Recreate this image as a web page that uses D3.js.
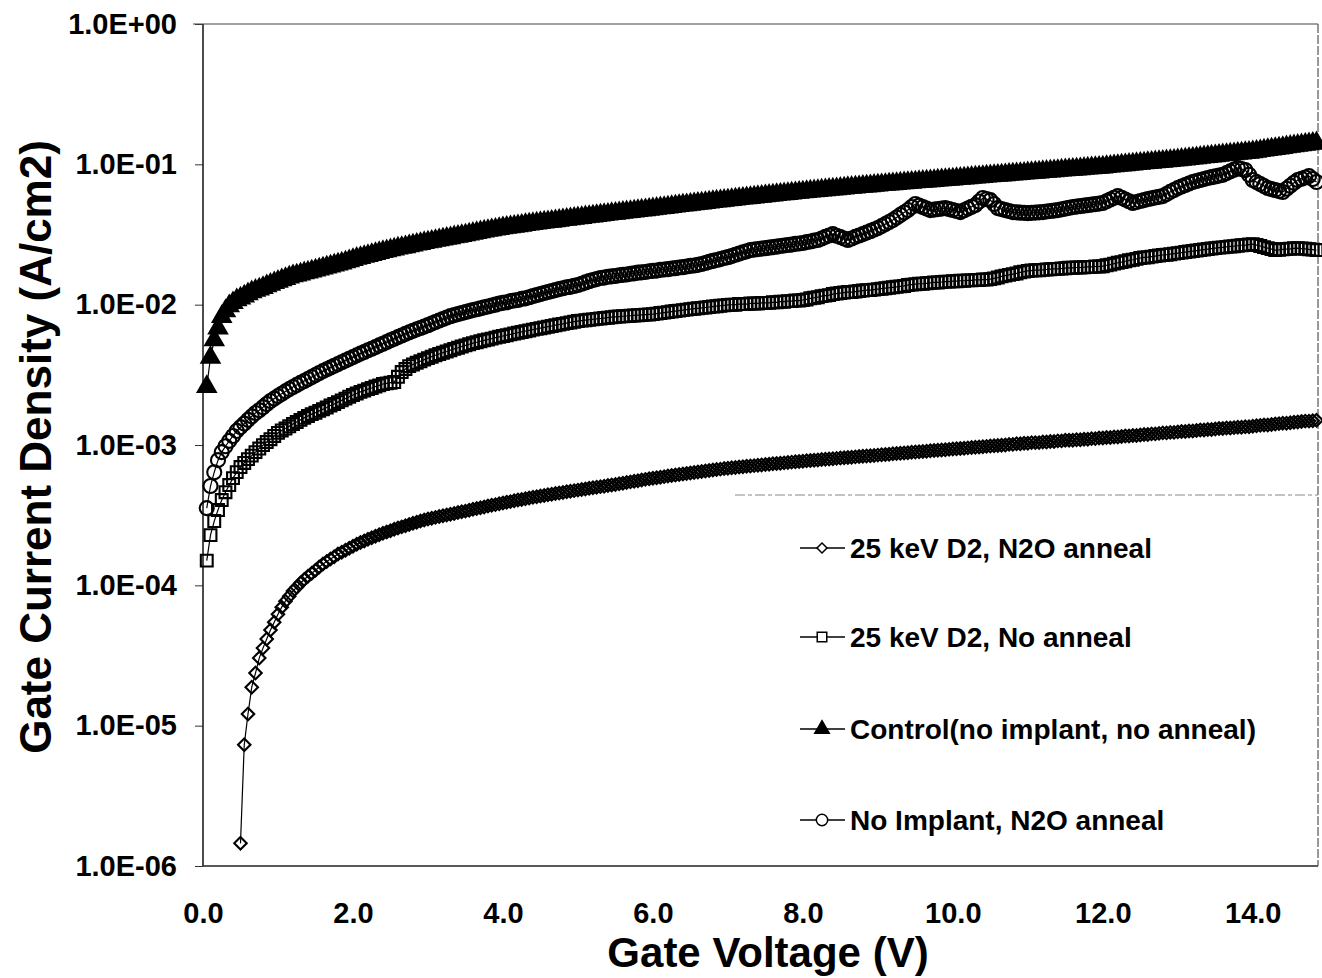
<!DOCTYPE html>
<html>
<head>
<meta charset="utf-8">
<script src="https://cdn.jsdelivr.net/npm/d3@7"></script>
<style>
  body { margin: 0; background: #fff; }
  svg { display: block; font-family: "Liberation Sans", Arial, Helvetica, sans-serif; font-weight: bold; }
</style>
</head>
<body>
<div id="chart"></div>
<script>
// gate voltage sweep (V)
const voltage = [
  0.05,0.1,0.15,0.2,0.25,0.3,0.35,0.4,0.45,0.5,0.55,0.6,0.65,0.7,0.75,0.8,0.85,0.9,0.95,1.0,
  1.05,1.1,1.15,1.2,1.25,1.3,1.35,1.4,1.45,1.5,1.55,1.6,1.65,1.7,1.75,1.8,1.85,1.9,1.95,2.0,
  2.05,2.1,2.15,2.2,2.25,2.3,2.35,2.4,2.45,2.5,2.55,2.6,2.65,2.7,2.75,2.8,2.85,2.9,2.95,3.0,
  3.05,3.1,3.15,3.2,3.25,3.3,3.35,3.4,3.45,3.5,3.55,3.6,3.65,3.7,3.75,3.8,3.85,3.9,3.95,4.0,
  4.05,4.1,4.15,4.2,4.25,4.3,4.35,4.4,4.45,4.5,4.55,4.6,4.65,4.7,4.75,4.8,4.85,4.9,4.95,5.0,
  5.05,5.1,5.15,5.2,5.25,5.3,5.35,5.4,5.45,5.5,5.55,5.6,5.65,5.7,5.75,5.8,5.85,5.9,5.95,6.0,
  6.05,6.1,6.15,6.2,6.25,6.3,6.35,6.4,6.45,6.5,6.55,6.6,6.65,6.7,6.75,6.8,6.85,6.9,6.95,7.0,
  7.05,7.1,7.15,7.2,7.25,7.3,7.35,7.4,7.45,7.5,7.55,7.6,7.65,7.7,7.75,7.8,7.85,7.9,7.95,8.0,
  8.05,8.1,8.15,8.2,8.25,8.3,8.35,8.4,8.45,8.5,8.55,8.6,8.65,8.7,8.75,8.8,8.85,8.9,8.95,9.0,
  9.05,9.1,9.15,9.2,9.25,9.3,9.35,9.4,9.45,9.5,9.55,9.6,9.65,9.7,9.75,9.8,9.85,9.9,9.95,10.0,
  10.05,10.1,10.15,10.2,10.25,10.3,10.35,10.4,10.45,10.5,10.55,10.6,10.65,10.7,10.75,10.8,10.85,10.9,10.95,11.0,
  11.05,11.1,11.15,11.2,11.25,11.3,11.35,11.4,11.45,11.5,11.55,11.6,11.65,11.7,11.75,11.8,11.85,11.9,11.95,12.0,
  12.05,12.1,12.15,12.2,12.25,12.3,12.35,12.4,12.45,12.5,12.55,12.6,12.65,12.7,12.75,12.8,12.85,12.9,12.95,13.0,
  13.05,13.1,13.15,13.2,13.25,13.3,13.35,13.4,13.45,13.5,13.55,13.6,13.65,13.7,13.75,13.8,13.85,13.9,13.95,14.0,
  14.05,14.1,14.15,14.2,14.25,14.3,14.35,14.4,14.45,14.5,14.55,14.6,14.65,14.7,14.75,14.8,14.85
];

// 25 keV D2, N2O anneal (A/cm2)
const d2N2O = [
  null,null,null,null,null,null,null,null,null,1.45e-6,7.3e-6,1.21e-5,1.88e-5,2.37e-5,3.03e-5,3.57e-5,4.14e-5,4.80e-5,5.46e-5,6.23e-5,
  6.99e-5,7.71e-5,8.37e-5,9.10e-5,9.70e-5,1.04e-4,1.10e-4,1.16e-4,1.22e-4,1.28e-4,1.35e-4,1.42e-4,1.48e-4,1.54e-4,1.60e-4,1.67e-4,1.72e-4,1.78e-4,1.84e-4,1.90e-4,
  1.96e-4,2.02e-4,2.07e-4,2.13e-4,2.18e-4,2.24e-4,2.29e-4,2.35e-4,2.40e-4,2.45e-4,2.51e-4,2.56e-4,2.61e-4,2.66e-4,2.71e-4,2.77e-4,2.82e-4,2.87e-4,2.92e-4,2.97e-4,
  3.01e-4,3.05e-4,3.09e-4,3.13e-4,3.17e-4,3.21e-4,3.25e-4,3.30e-4,3.34e-4,3.38e-4,3.43e-4,3.48e-4,3.53e-4,3.57e-4,3.62e-4,3.67e-4,3.72e-4,3.76e-4,3.81e-4,3.86e-4,
  3.91e-4,3.95e-4,4.00e-4,4.05e-4,4.09e-4,4.14e-4,4.19e-4,4.24e-4,4.28e-4,4.33e-4,4.37e-4,4.42e-4,4.46e-4,4.51e-4,4.55e-4,4.59e-4,4.64e-4,4.68e-4,4.73e-4,4.77e-4,
  4.82e-4,4.86e-4,4.91e-4,4.96e-4,5.00e-4,5.05e-4,5.09e-4,5.14e-4,5.18e-4,5.23e-4,5.29e-4,5.34e-4,5.40e-4,5.46e-4,5.52e-4,5.57e-4,5.63e-4,5.69e-4,5.74e-4,5.80e-4,
  5.85e-4,5.90e-4,5.95e-4,6.01e-4,6.06e-4,6.11e-4,6.16e-4,6.21e-4,6.27e-4,6.32e-4,6.37e-4,6.42e-4,6.47e-4,6.53e-4,6.58e-4,6.63e-4,6.68e-4,6.73e-4,6.79e-4,6.84e-4,
  6.88e-4,6.92e-4,6.96e-4,7.01e-4,7.05e-4,7.09e-4,7.13e-4,7.17e-4,7.21e-4,7.26e-4,7.30e-4,7.34e-4,7.38e-4,7.42e-4,7.46e-4,7.51e-4,7.55e-4,7.59e-4,7.63e-4,7.67e-4,
  7.71e-4,7.75e-4,7.79e-4,7.83e-4,7.87e-4,7.91e-4,7.95e-4,7.99e-4,8.03e-4,8.07e-4,8.11e-4,8.15e-4,8.19e-4,8.23e-4,8.27e-4,8.31e-4,8.35e-4,8.39e-4,8.43e-4,8.47e-4,
  8.51e-4,8.56e-4,8.60e-4,8.65e-4,8.69e-4,8.73e-4,8.78e-4,8.82e-4,8.87e-4,8.91e-4,8.95e-4,9.00e-4,9.04e-4,9.09e-4,9.13e-4,9.17e-4,9.22e-4,9.26e-4,9.31e-4,9.35e-4,
  9.40e-4,9.45e-4,9.49e-4,9.54e-4,9.59e-4,9.64e-4,9.68e-4,9.73e-4,9.78e-4,9.83e-4,9.87e-4,9.92e-4,9.97e-4,1.00e-3,1.01e-3,1.01e-3,1.02e-3,1.02e-3,1.03e-3,1.03e-3,
  1.04e-3,1.04e-3,1.04e-3,1.05e-3,1.05e-3,1.06e-3,1.06e-3,1.07e-3,1.07e-3,1.08e-3,1.08e-3,1.08e-3,1.09e-3,1.09e-3,1.10e-3,1.10e-3,1.11e-3,1.11e-3,1.12e-3,1.12e-3,
  1.13e-3,1.13e-3,1.14e-3,1.14e-3,1.15e-3,1.16e-3,1.16e-3,1.17e-3,1.17e-3,1.18e-3,1.19e-3,1.19e-3,1.20e-3,1.20e-3,1.21e-3,1.22e-3,1.22e-3,1.23e-3,1.23e-3,1.24e-3,
  1.25e-3,1.25e-3,1.26e-3,1.26e-3,1.27e-3,1.28e-3,1.28e-3,1.29e-3,1.29e-3,1.30e-3,1.31e-3,1.31e-3,1.32e-3,1.32e-3,1.33e-3,1.34e-3,1.34e-3,1.35e-3,1.35e-3,1.36e-3,
  1.37e-3,1.38e-3,1.39e-3,1.39e-3,1.40e-3,1.41e-3,1.42e-3,1.43e-3,1.43e-3,1.44e-3,1.45e-3,1.46e-3,1.47e-3,1.48e-3,1.48e-3,1.49e-3,1.50e-3
];

// 25 keV D2, No anneal (A/cm2)
const d2NoAnneal = [
  1.50e-4,2.28e-4,2.87e-4,3.44e-4,4.05e-4,4.61e-4,5.18e-4,5.81e-4,6.41e-4,6.96e-4,7.45e-4,7.93e-4,8.40e-4,8.90e-4,9.44e-4,9.98e-4,1.05e-3,1.10e-3,1.16e-3,1.22e-3,
  1.27e-3,1.31e-3,1.36e-3,1.41e-3,1.46e-3,1.51e-3,1.56e-3,1.61e-3,1.66e-3,1.70e-3,1.75e-3,1.80e-3,1.85e-3,1.91e-3,1.96e-3,2.02e-3,2.08e-3,2.14e-3,2.21e-3,2.27e-3,
  2.33e-3,2.39e-3,2.44e-3,2.50e-3,2.55e-3,2.61e-3,2.66e-3,2.72e-3,2.75e-3,2.78e-3,2.81e-3,3.06e-3,3.31e-3,3.48e-3,3.65e-3,3.75e-3,3.85e-3,3.95e-3,4.06e-3,4.16e-3,
  4.26e-3,4.36e-3,4.45e-3,4.55e-3,4.64e-3,4.74e-3,4.84e-3,4.93e-3,5.03e-3,5.13e-3,5.22e-3,5.32e-3,5.40e-3,5.49e-3,5.57e-3,5.65e-3,5.73e-3,5.82e-3,5.90e-3,5.98e-3,
  6.06e-3,6.14e-3,6.23e-3,6.31e-3,6.39e-3,6.47e-3,6.55e-3,6.64e-3,6.72e-3,6.80e-3,6.88e-3,6.97e-3,7.05e-3,7.14e-3,7.22e-3,7.30e-3,7.39e-3,7.47e-3,7.56e-3,7.64e-3,
  7.70e-3,7.75e-3,7.81e-3,7.86e-3,7.92e-3,7.97e-3,8.03e-3,8.08e-3,8.14e-3,8.19e-3,8.23e-3,8.27e-3,8.30e-3,8.34e-3,8.38e-3,8.41e-3,8.45e-3,8.49e-3,8.52e-3,8.56e-3,
  8.63e-3,8.71e-3,8.78e-3,8.85e-3,8.93e-3,9.00e-3,9.07e-3,9.14e-3,9.22e-3,9.29e-3,9.36e-3,9.42e-3,9.49e-3,9.55e-3,9.62e-3,9.69e-3,9.75e-3,9.82e-3,9.88e-3,9.95e-3,
  9.99e-3,1.00e-2,1.01e-2,1.01e-2,1.01e-2,1.02e-2,1.02e-2,1.02e-2,1.03e-2,1.03e-2,1.03e-2,1.04e-2,1.04e-2,1.05e-2,1.05e-2,1.06e-2,1.06e-2,1.07e-2,1.07e-2,1.08e-2,
  1.09e-2,1.11e-2,1.12e-2,1.13e-2,1.15e-2,1.16e-2,1.17e-2,1.19e-2,1.20e-2,1.21e-2,1.22e-2,1.23e-2,1.23e-2,1.24e-2,1.25e-2,1.26e-2,1.27e-2,1.27e-2,1.28e-2,1.29e-2,
  1.30e-2,1.31e-2,1.32e-2,1.33e-2,1.34e-2,1.35e-2,1.36e-2,1.38e-2,1.39e-2,1.40e-2,1.41e-2,1.41e-2,1.42e-2,1.43e-2,1.44e-2,1.44e-2,1.45e-2,1.46e-2,1.46e-2,1.47e-2,
  1.47e-2,1.48e-2,1.48e-2,1.49e-2,1.49e-2,1.50e-2,1.50e-2,1.51e-2,1.51e-2,1.52e-2,1.54e-2,1.56e-2,1.59e-2,1.61e-2,1.63e-2,1.65e-2,1.67e-2,1.70e-2,1.72e-2,1.74e-2,
  1.75e-2,1.76e-2,1.76e-2,1.77e-2,1.78e-2,1.79e-2,1.80e-2,1.80e-2,1.81e-2,1.82e-2,1.83e-2,1.83e-2,1.84e-2,1.84e-2,1.85e-2,1.86e-2,1.86e-2,1.87e-2,1.87e-2,1.88e-2,
  1.91e-2,1.93e-2,1.96e-2,1.99e-2,2.01e-2,2.04e-2,2.07e-2,2.09e-2,2.12e-2,2.15e-2,2.17e-2,2.18e-2,2.20e-2,2.22e-2,2.24e-2,2.26e-2,2.27e-2,2.29e-2,2.31e-2,2.33e-2,
  2.35e-2,2.37e-2,2.39e-2,2.41e-2,2.43e-2,2.45e-2,2.47e-2,2.49e-2,2.51e-2,2.53e-2,2.55e-2,2.56e-2,2.58e-2,2.60e-2,2.61e-2,2.63e-2,2.65e-2,2.66e-2,2.68e-2,2.70e-2,
  2.66e-2,2.62e-2,2.57e-2,2.53e-2,2.49e-2,2.45e-2,2.46e-2,2.48e-2,2.49e-2,2.50e-2,2.52e-2,2.53e-2,2.51e-2,2.50e-2,2.48e-2,2.47e-2,2.45e-2
];

// Control (no implant, no anneal) (A/cm2)
const control = [
  0.0026,0.0042,0.0056,0.0068,0.0082,0.0090,0.0098,0.0103,0.0108,0.0111,0.0115,0.0119,0.0123,0.0126,0.0129,0.0132,0.0136,0.0139,0.0143,0.0146,
  0.0150,0.0153,0.0157,0.0160,0.0162,0.0165,0.0168,0.0170,0.0173,0.0176,0.0179,0.0182,0.0185,0.0188,0.0191,0.0194,0.0197,0.0201,0.0205,0.0209,
  0.0213,0.0216,0.0220,0.0223,0.0227,0.0231,0.0234,0.0238,0.0241,0.0245,0.0248,0.0252,0.0255,0.0258,0.0262,0.0265,0.0269,0.0272,0.0276,0.0279,
  0.0282,0.0286,0.0289,0.0293,0.0296,0.0299,0.0303,0.0306,0.0310,0.0313,0.0317,0.0321,0.0325,0.0329,0.0333,0.0337,0.0341,0.0344,0.0348,0.0352,
  0.0355,0.0358,0.0361,0.0364,0.0367,0.0371,0.0374,0.0377,0.0380,0.0383,0.0386,0.0389,0.0392,0.0395,0.0398,0.0402,0.0405,0.0408,0.0411,0.0414,
  0.0417,0.0421,0.0424,0.0427,0.0430,0.0434,0.0437,0.0440,0.0444,0.0447,0.0450,0.0454,0.0457,0.0460,0.0463,0.0467,0.0470,0.0473,0.0477,0.0480,
  0.0484,0.0488,0.0491,0.0495,0.0499,0.0503,0.0507,0.0511,0.0514,0.0518,0.0522,0.0526,0.0529,0.0533,0.0537,0.0541,0.0545,0.0548,0.0552,0.0556,
  0.0560,0.0564,0.0568,0.0572,0.0576,0.0579,0.0583,0.0587,0.0591,0.0595,0.0599,0.0603,0.0607,0.0611,0.0614,0.0618,0.0622,0.0626,0.0630,0.0634,
  0.0638,0.0642,0.0645,0.0649,0.0653,0.0657,0.0661,0.0664,0.0668,0.0672,0.0676,0.0680,0.0683,0.0687,0.0691,0.0695,0.0699,0.0702,0.0706,0.0710,
  0.0714,0.0717,0.0721,0.0725,0.0728,0.0732,0.0736,0.0740,0.0743,0.0747,0.0751,0.0754,0.0758,0.0762,0.0765,0.0769,0.0773,0.0777,0.0780,0.0784,
  0.0788,0.0792,0.0796,0.0800,0.0805,0.0809,0.0813,0.0817,0.0821,0.0825,0.0829,0.0833,0.0837,0.0841,0.0846,0.0850,0.0854,0.0858,0.0862,0.0866,
  0.0870,0.0875,0.0879,0.0884,0.0888,0.0893,0.0897,0.0902,0.0906,0.0911,0.0915,0.0919,0.0924,0.0928,0.0933,0.0937,0.0942,0.0946,0.0951,0.0955,
  0.0961,0.0967,0.0973,0.0979,0.0985,0.0990,0.0996,0.1002,0.1008,0.1014,0.1020,0.1026,0.1032,0.1038,0.1043,0.1049,0.1055,0.1061,0.1067,0.1073,
  0.1081,0.1088,0.1096,0.1103,0.1111,0.1118,0.1126,0.1133,0.1141,0.1148,0.1156,0.1164,0.1171,0.1179,0.1186,0.1194,0.1201,0.1209,0.1216,0.1224,
  0.1235,0.1247,0.1258,0.1270,0.1281,0.1292,0.1304,0.1315,0.1327,0.1338,0.1350,0.1361,0.1372,0.1384,0.1395,0.1407,0.1418
];

// No Implant, N2O anneal (A/cm2)
const noImplantN2O = [
  3.55e-4,5.1e-4,6.4e-4,7.8e-4,8.9e-4,9.8e-4,1.07e-3,1.16e-3,1.26e-3,1.34e-3,1.42e-3,1.51e-3,1.60e-3,1.69e-3,1.77e-3,1.86e-3,1.96e-3,2.06e-3,2.14e-3,2.23e-3,
  2.32e-3,2.41e-3,2.50e-3,2.59e-3,2.68e-3,2.77e-3,2.86e-3,2.95e-3,3.05e-3,3.15e-3,3.26e-3,3.36e-3,3.46e-3,3.56e-3,3.67e-3,3.77e-3,3.89e-3,4.00e-3,4.12e-3,4.23e-3,
  4.35e-3,4.48e-3,4.60e-3,4.73e-3,4.85e-3,4.98e-3,5.13e-3,5.27e-3,5.42e-3,5.57e-3,5.72e-3,5.87e-3,6.03e-3,6.19e-3,6.35e-3,6.51e-3,6.67e-3,6.82e-3,6.98e-3,7.14e-3,
  7.33e-3,7.52e-3,7.71e-3,7.90e-3,8.09e-3,8.28e-3,8.42e-3,8.57e-3,8.71e-3,8.85e-3,9.00e-3,9.14e-3,9.28e-3,9.42e-3,9.57e-3,9.71e-3,9.86e-3,1.00e-2,1.02e-2,1.03e-2,
  1.04e-2,1.06e-2,1.07e-2,1.08e-2,1.10e-2,1.11e-2,1.13e-2,1.15e-2,1.17e-2,1.19e-2,1.21e-2,1.23e-2,1.25e-2,1.27e-2,1.29e-2,1.31e-2,1.33e-2,1.34e-2,1.36e-2,1.38e-2,
  1.41e-2,1.44e-2,1.47e-2,1.50e-2,1.52e-2,1.55e-2,1.56e-2,1.58e-2,1.59e-2,1.60e-2,1.62e-2,1.63e-2,1.64e-2,1.66e-2,1.67e-2,1.69e-2,1.70e-2,1.71e-2,1.73e-2,1.74e-2,
  1.75e-2,1.77e-2,1.78e-2,1.79e-2,1.81e-2,1.82e-2,1.84e-2,1.85e-2,1.87e-2,1.89e-2,1.90e-2,1.92e-2,1.95e-2,1.98e-2,2.02e-2,2.05e-2,2.08e-2,2.11e-2,2.15e-2,2.18e-2,
  2.22e-2,2.27e-2,2.31e-2,2.36e-2,2.40e-2,2.45e-2,2.47e-2,2.49e-2,2.51e-2,2.53e-2,2.55e-2,2.57e-2,2.59e-2,2.62e-2,2.64e-2,2.66e-2,2.68e-2,2.71e-2,2.73e-2,2.75e-2,
  2.79e-2,2.82e-2,2.86e-2,2.89e-2,2.96e-2,3.04e-2,3.11e-2,3.18e-2,3.10e-2,3.03e-2,2.96e-2,2.89e-2,2.96e-2,3.04e-2,3.11e-2,3.18e-2,3.26e-2,3.34e-2,3.43e-2,3.51e-2,
  3.63e-2,3.75e-2,3.88e-2,4.01e-2,4.18e-2,4.36e-2,4.54e-2,4.72e-2,4.96e-2,5.21e-2,5.08e-2,4.96e-2,4.84e-2,4.72e-2,4.76e-2,4.80e-2,4.84e-2,4.88e-2,4.80e-2,4.73e-2,
  4.65e-2,4.57e-2,4.70e-2,4.84e-2,4.98e-2,5.12e-2,5.43e-2,5.75e-2,5.65e-2,5.56e-2,5.22e-2,4.88e-2,4.80e-2,4.72e-2,4.65e-2,4.57e-2,4.55e-2,4.53e-2,4.51e-2,4.49e-2,
  4.51e-2,4.53e-2,4.55e-2,4.57e-2,4.61e-2,4.65e-2,4.68e-2,4.72e-2,4.78e-2,4.84e-2,4.90e-2,4.96e-2,5.00e-2,5.04e-2,5.08e-2,5.12e-2,5.16e-2,5.21e-2,5.25e-2,5.30e-2,
  5.46e-2,5.62e-2,5.78e-2,5.94e-2,5.78e-2,5.62e-2,5.46e-2,5.30e-2,5.39e-2,5.48e-2,5.56e-2,5.65e-2,5.72e-2,5.80e-2,5.87e-2,5.94e-2,6.15e-2,6.36e-2,6.56e-2,6.77e-2,
  6.95e-2,7.13e-2,7.30e-2,7.48e-2,7.61e-2,7.73e-2,7.86e-2,7.99e-2,8.10e-2,8.20e-2,8.31e-2,8.41e-2,8.66e-2,8.91e-2,9.16e-2,9.41e-2,9.25e-2,9.10e-2,8.42e-2,7.73e-2,
  7.47e-2,7.24e-2,7.00e-2,6.77e-2,6.66e-2,6.56e-2,6.45e-2,6.35e-2,6.70e-2,7.04e-2,7.39e-2,7.73e-2,7.89e-2,8.06e-2,8.24e-2,7.86e-2,7.48e-2
];

const seriesNames = ["25 keV D2, N2O anneal", "25 keV D2, No anneal", "Control(no implant, no anneal)", "No Implant, N2O anneal"];
const xTicks = [0, 2, 4, 6, 8, 10, 12, 14];
const xTickLabels = ["0.0", "2.0", "4.0", "6.0", "8.0", "10.0", "12.0", "14.0"];
const yTicks = [1e-6, 1e-5, 1e-4, 1e-3, 1e-2, 1e-1, 1];
const yTickLabels = ["1.0E-06", "1.0E-05", "1.0E-04", "1.0E-03", "1.0E-02", "1.0E-01", "1.0E+00"];

const width = 1322, height = 978;
const plot = { left: 203, right: 1318, top: 24, bottom: 866 };

const svg = d3.select('#chart').append('svg')
  .attr('width', width)
  .attr('height', height)
  .style('background', '#fff');

const x = d3.scaleLinear().domain([0, 14.87]).range([plot.left, plot.right]);
const y = d3.scaleLog().domain([1e-6, 1]).range([plot.bottom, plot.top]);

// marker styles, one per series (same order as seriesNames)
const markers = [
  { type: d3.symbolSquare, size: 78, rotate: 45, fill: 'none' },
  { type: d3.symbolSquare, size: 140, rotate: 0, fill: 'none' },
  { type: d3.symbolTriangle, size: 140, rotate: 0, fill: '#000' },
  { type: d3.symbolCircle, size: 155, rotate: 0, fill: 'none' }
];
const seriesValues = [d2N2O, d2NoAnneal, control, noImplantN2O];

// y axis with outward ticks
const yAxis = d3.axisLeft(y)
  .tickValues(yTicks)
  .tickFormat((d, i) => yTickLabels[i])
  .tickSize(8)
  .tickPadding(18);

const gy = svg.append('g')
  .attr('transform', `translate(${plot.left},0)`)
  .call(yAxis);
gy.select('.domain').remove();
gy.selectAll('line').attr('stroke', '#333');
gy.selectAll('text')
  .style('font-size', '29px')
  .style('font-weight', 'bold')
  .attr('fill', '#000');

// x axis, labels only
const xAxis = d3.axisBottom(x)
  .tickValues(xTicks)
  .tickFormat((d, i) => xTickLabels[i])
  .tickSize(0)
  .tickPadding(36);

const gx = svg.append('g')
  .attr('transform', `translate(0,${plot.bottom})`)
  .call(xAxis);
gx.select('.domain').remove();
gx.selectAll('text')
  .style('font-size', '29px')
  .style('font-weight', 'bold')
  .attr('fill', '#000');

// plot frame
svg.append('line')
  .attr('x1', plot.left).attr('x2', plot.left)
  .attr('y1', plot.top).attr('y2', plot.bottom)
  .attr('stroke', '#111').attr('stroke-width', 1.5);
svg.append('line')
  .attr('x1', plot.left).attr('x2', plot.right)
  .attr('y1', plot.bottom).attr('y2', plot.bottom)
  .attr('stroke', '#222').attr('stroke-width', 1.3);
svg.append('line')
  .attr('x1', plot.left - 10).attr('x2', plot.right)
  .attr('y1', plot.top).attr('y2', plot.top)
  .attr('stroke', '#444').attr('stroke-width', 1.2);
svg.append('line')
  .attr('x1', plot.right).attr('x2', plot.right)
  .attr('y1', plot.top).attr('y2', plot.bottom)
  .attr('stroke', '#555').attr('stroke-width', 1.2)
  .attr('stroke-dasharray', '9,2');

// legend box top edge
svg.append('line')
  .attr('x1', 735).attr('x2', plot.right)
  .attr('y1', 495).attr('y2', 495)
  .attr('stroke', '#888').attr('stroke-width', 1)
  .attr('stroke-dasharray', '10,3,4,3');

// series
const line = d3.line()
  .defined(d => d.j != null)
  .x(d => x(d.v))
  .y(d => y(d.j));

seriesValues.forEach(function(vals, s) {
  const pts = voltage.map((v, i) => ({ v: v, j: vals[i] }));
  const g = svg.append('g');
  g.append('path')
    .datum(pts)
    .attr('d', line)
    .attr('fill', 'none')
    .attr('stroke', '#000')
    .attr('stroke-width', 1.2);
  const m = markers[s];
  g.selectAll('path.mk')
    .data(pts.filter(d => d.j != null))
    .enter()
    .append('path')
      .attr('class', 'mk')
      .attr('d', d3.symbol().type(m.type).size(m.size))
      .attr('transform', d => `translate(${x(d.v)},${y(d.j)}) rotate(${m.rotate})`)
      .attr('fill', m.fill)
      .attr('stroke', '#000')
      .attr('stroke-width', 2.1);
  if (vals.length !== voltage.length) {
    svg.append('text').attr('x', 400).attr('y', 60 + s * 30)
      .attr('fill', 'red').text('length mismatch ' + s + ': ' + vals.length);
  }
});

// legend
const legendRows = [548, 637, 729, 820];
seriesNames.forEach(function(name, s) {
  const ly = legendRows[s];
  const m = markers[s];
  svg.append('line')
    .attr('x1', 800).attr('x2', 845)
    .attr('y1', ly).attr('y2', ly)
    .attr('stroke', '#000').attr('stroke-width', 1.5);
  svg.append('path')
    .attr('d', d3.symbol().type(m.type).size(m.size * 0.65)())
    .attr('transform', `translate(822,${ly}) rotate(${m.rotate})`)
    .attr('fill', m.fill === 'none' ? '#fff' : m.fill)
    .attr('stroke', '#000')
    .attr('stroke-width', 1.5);
  svg.append('text')
    .attr('x', 850)
    .attr('y', ly)
    .attr('dy', '0.36em')
    .style('font-size', '28px')
    .style('font-weight', 'bold')
    .text(name);
});

// axis titles
svg.append('text')
  .attr('x', 768)
  .attr('y', 967)
  .attr('text-anchor', 'middle')
  .style('font-size', '42px')
  .style('font-weight', 'bold')
  .text('Gate Voltage (V)');

svg.append('text')
  .attr('text-anchor', 'middle')
  .attr('transform', 'translate(51,447) rotate(-90)')
  .style('font-size', '44px')
  .style('font-weight', 'bold')
  .text('Gate Current Density (A/cm2)');
</script>
</body>
</html>
